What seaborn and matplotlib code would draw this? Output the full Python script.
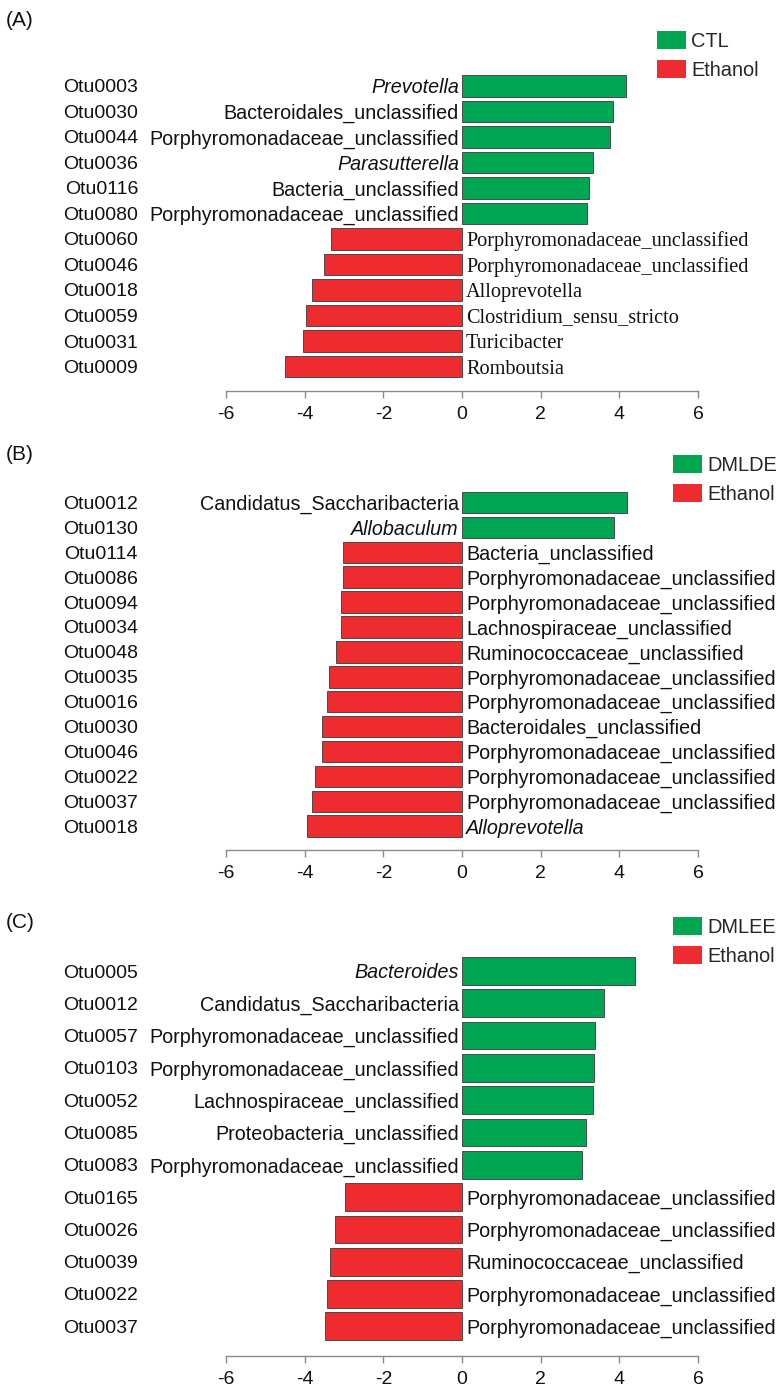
import numpy as np
import pandas as pd
import matplotlib
matplotlib.use("Agg")
import matplotlib.pyplot as plt
import seaborn as sns

# ---------------- data ----------------
A_otu = ['Otu0003', 'Otu0030', 'Otu0044', 'Otu0036', 'Otu0116', 'Otu0080',
         'Otu0060', 'Otu0046', 'Otu0018', 'Otu0059', 'Otu0031', 'Otu0009']
A_genus = ['Prevotella', 'Bacteroidales_unclassified', 'Porphyromonadaceae_unclassified',
           'Parasutterella', 'Bacteria_unclassified', 'Porphyromonadaceae_unclassified',
           'Porphyromonadaceae_unclassified', 'Porphyromonadaceae_unclassified',
           'Alloprevotella', 'Clostridium_sensu_stricto', 'Turicibacter', 'Romboutsia']
A_lda = [4.16, 3.83, 3.76, 3.32, 3.23, 3.17, -3.33, -3.52, -3.81, -3.96, -4.04, -4.49]
A_italic = [True, False, False, True, False, False, False, False, False, False, False, False]
A_groups = ['CTL', 'Ethanol']

B_otu = ['Otu0012', 'Otu0130', 'Otu0114', 'Otu0086', 'Otu0094', 'Otu0034', 'Otu0048',
         'Otu0035', 'Otu0016', 'Otu0030', 'Otu0046', 'Otu0022', 'Otu0037', 'Otu0018']
B_genus = ['Candidatus_Saccharibacteria', 'Allobaculum', 'Bacteria_unclassified',
           'Porphyromonadaceae_unclassified', 'Porphyromonadaceae_unclassified',
           'Lachnospiraceae_unclassified', 'Ruminococcaceae_unclassified',
           'Porphyromonadaceae_unclassified', 'Porphyromonadaceae_unclassified',
           'Bacteroidales_unclassified', 'Porphyromonadaceae_unclassified',
           'Porphyromonadaceae_unclassified', 'Porphyromonadaceae_unclassified',
           'Alloprevotella']
B_lda = [4.20, 3.86, -3.03, -3.03, -3.08, -3.08, -3.21, -3.39, -3.44, -3.57, -3.57,
         -3.75, -3.82, -3.95]
B_italic = [False, True] + [False] * 11 + [True]
B_groups = ['DMLDE', 'Ethanol']

C_otu = ['Otu0005', 'Otu0012', 'Otu0057', 'Otu0103', 'Otu0052', 'Otu0085', 'Otu0083',
         'Otu0165', 'Otu0026', 'Otu0039', 'Otu0022', 'Otu0037']
C_genus = ['Bacteroides', 'Candidatus_Saccharibacteria', 'Porphyromonadaceae_unclassified',
           'Porphyromonadaceae_unclassified', 'Lachnospiraceae_unclassified',
           'Proteobacteria_unclassified', 'Porphyromonadaceae_unclassified',
           'Porphyromonadaceae_unclassified', 'Porphyromonadaceae_unclassified',
           'Ruminococcaceae_unclassified', 'Porphyromonadaceae_unclassified',
           'Porphyromonadaceae_unclassified']
C_lda = [4.40, 3.61, 3.39, 3.35, 3.32, 3.15, 3.05, -2.98, -3.22, -3.36, -3.44, -3.49]
C_italic = [True] + [False] * 11
C_groups = ['DMLEE', 'Ethanol']

x_ticks = [-6, -4, -2, 0, 2, 4, 6]
GREEN = '#00A651'
RED = '#EE2B2F'

# ---------------- style ----------------
sns.set_theme(style='white')
plt.rcParams['font.family'] = ['Liberation Sans', 'DejaVu Sans']
plt.rcParams['axes.unicode_minus'] = False

W, H = 779, 1390
fig = plt.figure(figsize=(W / 100, H / 100), dpi=100)
fig.patch.set_facecolor('white')

X0, X1 = 226, 698  # pixel positions of -6 and 6
PX2PT = 0.72


def panel(otus, genus, lda, italic, groups, row0, spacing, spine, serif_red,
          tag, tag_y, leg_x, leg_y):
    top = row0 - 0.6 * spacing
    ax = fig.add_axes([X0 / W, 1 - spine / H, (X1 - X0) / W, (spine - top) / H])
    df = pd.DataFrame({'otu': otus, 'lda': lda,
                       'group': [groups[0] if v > 0 else groups[1] for v in lda]})
    sns.barplot(data=df, x='lda', y='otu', hue='group', hue_order=groups,
                palette=[GREEN, RED], saturation=1, dodge=False, width=0.86,
                orient='h', edgecolor='#4a4a4a', linewidth=0.7, ax=ax)
    ax.set_xlim(-6, 6)
    ax.set_ylim((spine - row0) / spacing, -0.6)
    ax.set_xlabel('')
    ax.set_ylabel('')
    for s in ['top', 'right', 'left']:
        ax.spines[s].set_visible(False)
    ax.spines['bottom'].set_color('#8a8a8a')
    ax.spines['bottom'].set_linewidth(1.0)
    ax.set_xticks(x_ticks)
    ax.set_xticklabels([str(t) for t in x_ticks])
    ax.tick_params(axis='x', direction='out', length=5, width=1.0, color='#8a8a8a',
                   labelsize=14, pad=6, labelcolor='#111111', bottom=True)
    ax.tick_params(axis='y', length=0, pad=(X0 - 138) * PX2PT, labelsize=14,
                   labelcolor='#111111')
    ax.set_facecolor('none')

    for i, (g, v, it) in enumerate(zip(genus, lda, italic)):
        if v > 0:
            ax.annotate(g, (0, i), xytext=(-3 * PX2PT, 0), textcoords='offset points',
                        ha='right', va='center_baseline', fontsize=14.2,
                        style='italic' if it else 'normal', color='#111111',
                        annotation_clip=False)
        else:
            fam = ['Liberation Serif', 'DejaVu Serif'] if serif_red else ['Liberation Sans', 'DejaVu Sans']
            ax.annotate(g, (0, i), xytext=(4 * PX2PT, 0), textcoords='offset points',
                        ha='left', va='center_baseline',
                        fontsize=14.6 if serif_red else 14.2, family=fam,
                        style='italic' if it else 'normal', color='#111111',
                        annotation_clip=False)

    handles, labels = ax.get_legend_handles_labels()
    if ax.get_legend() is not None:
        ax.get_legend().remove()
    for h in handles:
        h.set_edgecolor('none')
    fig.legend(handles, labels, loc='upper left',
               bbox_to_anchor=(leg_x / W, 1 - leg_y / H), bbox_transform=fig.transFigure,
               frameon=False, fontsize=14.4, handlelength=1.45, handleheight=1.0,
               handletextpad=0.25, labelspacing=0.45, borderpad=0, borderaxespad=0)

    fig.text(6 / W, 1 - tag_y / H, tag, fontsize=15, va='center', ha='left',
             color='#111111')
    return ax


panel(A_otu, A_genus, A_lda, A_italic, A_groups, row0=86, spacing=25.5, spine=391,
      serif_red=True, tag='(A)', tag_y=20, leg_x=657, leg_y=31)
panel(B_otu, B_genus, B_lda, B_italic, B_groups, row0=502.5, spacing=24.9, spine=850,
      serif_red=False, tag='(B)', tag_y=455, leg_x=673, leg_y=455)
panel(C_otu, C_genus, C_lda, C_italic, C_groups, row0=971, spacing=32.3, spine=1356,
      serif_red=False, tag='(C)', tag_y=923, leg_x=673, leg_y=917)

fig.savefig('out.png', dpi=100, facecolor='white')
